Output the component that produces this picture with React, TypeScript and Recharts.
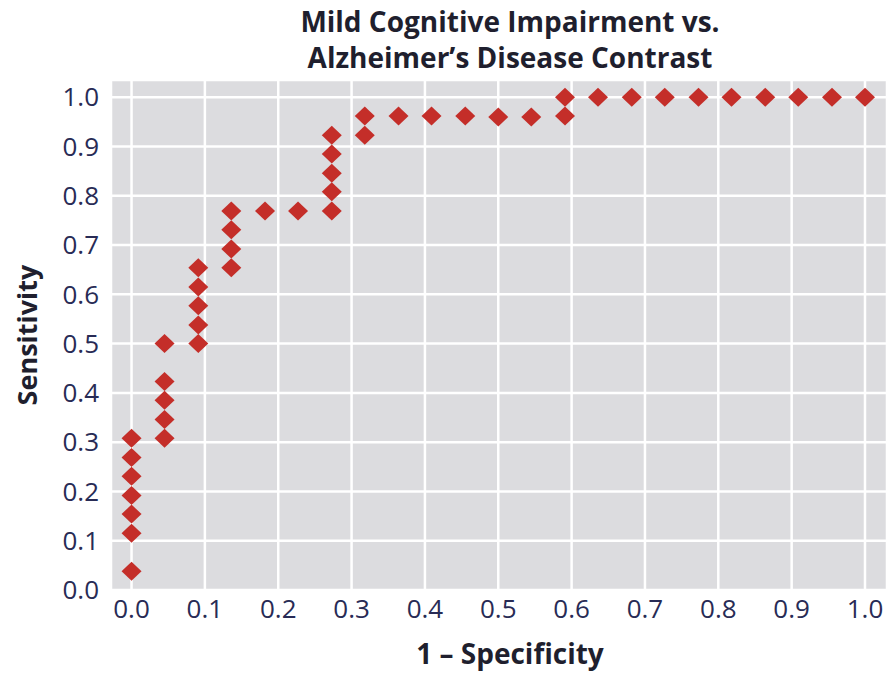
import { ScatterChart, Scatter, XAxis, YAxis, CartesianGrid } from 'recharts'

// 1 - specificity (false positive rate)
const fpr = [
  0, 0, 0, 0, 0, 0, 0,
  0.045, 0.045, 0.045, 0.045, 0.045,
  0.091, 0.091, 0.091, 0.091, 0.091,
  0.136, 0.136, 0.136, 0.136,
  0.182, 0.227,
  0.273, 0.273, 0.273, 0.273, 0.273,
  0.318, 0.318,
  0.364, 0.409, 0.455, 0.5, 0.545,
  0.591, 0.591,
  0.636, 0.682, 0.727, 0.773, 0.818, 0.864, 0.909, 0.955, 1.0,
]

// sensitivity (true positive rate)
const tpr = [
  0.038, 0.115, 0.154, 0.192, 0.231, 0.269, 0.308,
  0.308, 0.346, 0.385, 0.423, 0.5,
  0.5, 0.538, 0.577, 0.615, 0.654,
  0.654, 0.692, 0.731, 0.769,
  0.769, 0.769,
  0.769, 0.808, 0.846, 0.885, 0.923,
  0.923, 0.962,
  0.962, 0.962, 0.962, 0.96, 0.96,
  0.962, 1.0,
  1, 1, 1, 1, 1, 1, 1, 1, 1,
]

const ticks = [0, 0.1, 0.2, 0.3, 0.4, 0.5, 0.6, 0.7, 0.8, 0.9, 1.0]

const titleLines = ['Mild Cognitive Impairment vs.', 'Alzheimer\u2019s Disease Contrast']

const points = fpr.map((x, i) => ({ x, y: tpr[i] }))

const FONT = '"Open Sans", "Noto Sans", sans-serif'
const RED = '#c42e29'
const TICK_COLOR = '#282b55'

const Diamond = (props: any) => {
  const { cx, cy } = props
  if (cx == null || cy == null) return null
  const w = 10
  const h = 9.5
  return (
    <path
      d={`M${cx},${cy - h} L${cx + w},${cy} L${cx},${cy + h} L${cx - w},${cy} Z`}
      fill={RED}
    />
  )
}

export default function App() {
  return (
    <div style={{ position: 'absolute', left: 0, top: 0, width: 887, height: 673, background: '#fff' }}>
      <ScatterChart
        width={887}
        height={673}
        margin={{ top: 80, right: 0, bottom: 0, left: 0 }}
      >
        <CartesianGrid fill="#dcdcdf" stroke="#ffffff" strokeWidth={2.5} />
        <XAxis
          type="number"
          dataKey="x"
          domain={[-0.028, 1.03]}
          ticks={ticks}
          allowDataOverflow
          height={83}
          tickLine={false}
          axisLine={false}
          tickSize={0}
          tickMargin={10}
          tickFormatter={(v: number) => v.toFixed(1)}
          tick={{ fill: TICK_COLOR, fontSize: 26, fontFamily: FONT }}
        />
        <YAxis
          type="number"
          dataKey="y"
          domain={[0, 1.035]}
          ticks={ticks}
          allowDataOverflow
          width={111}
          tickLine={false}
          axisLine={false}
          tickSize={0}
          tickMargin={12}
          tickFormatter={(v: number) => v.toFixed(1)}
          tick={{ fill: TICK_COLOR, fontSize: 26, fontFamily: FONT }}
        />
        <Scatter data={points} shape={Diamond} isAnimationActive={false} />
      </ScatterChart>
      <svg
        width={887}
        height={673}
        style={{ position: 'absolute', left: 0, top: 0, pointerEvents: 'none' }}
      >
        {titleLines.map((t, i) => (
          <text
            key={t}
            x={510}
            y={32 + i * 36}
            textAnchor="middle"
            fontFamily={FONT}
            fontWeight={700}
            fontSize={28}
            fill="#1f1f2e"
          >
            {t}
          </text>
        ))}
        <text
          x={510}
          y={664}
          textAnchor="middle"
          fontFamily={FONT}
          fontWeight={700}
          fontSize={28}
          fill="#1f1f2e"
        >
          1 – Specificity
        </text>
        <text
          transform="translate(37, 335) rotate(-90)"
          textAnchor="middle"
          fontFamily={FONT}
          fontWeight={700}
          fontSize={27}
          fill="#1f1f2e"
        >
          Sensitivity
        </text>
      </svg>
    </div>
  )
}
